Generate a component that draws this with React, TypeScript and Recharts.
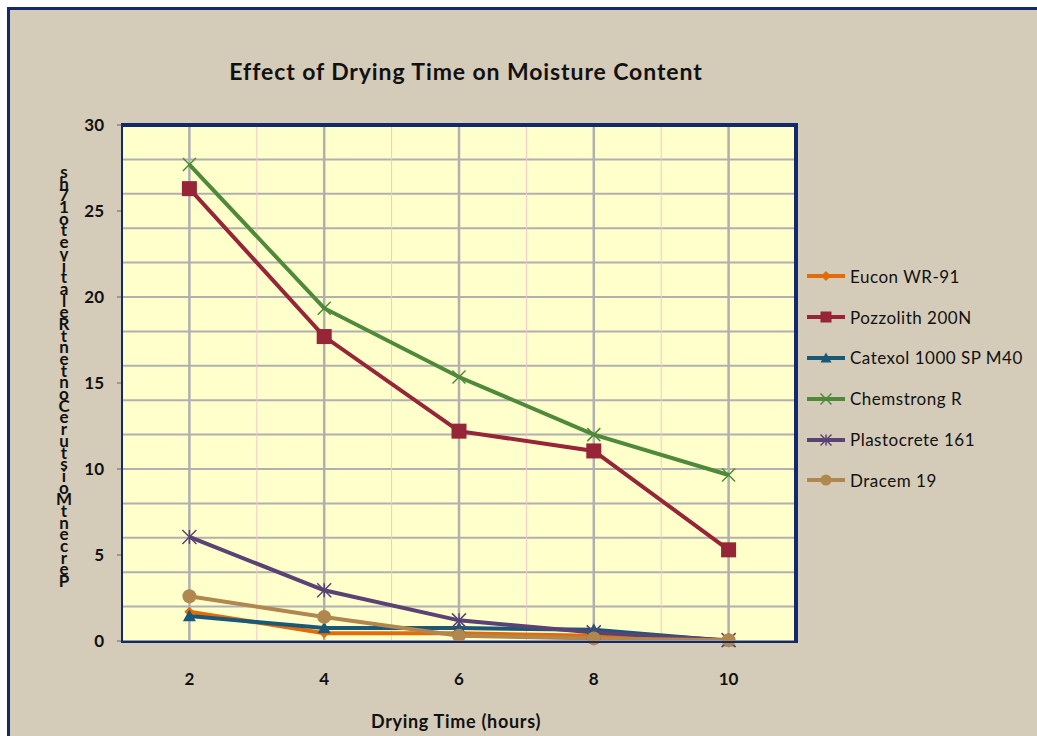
import { LineChart, Line, XAxis, YAxis, CartesianGrid, ReferenceLine } from "recharts";

const hours = [2, 4, 6, 8, 10];
const euconWR91 = [1.7, 0.45, 0.45, 0.3, 0];
const pozzolith200N = [26.3, 17.7, 12.2, 11.05, 5.3];
const catexol1000 = [1.45, 0.75, 0.75, 0.65, 0];
const chemstrongR = [27.7, 19.35, 15.35, 12.0, 9.65];
const plastocrete161 = [6.05, 2.95, 1.2, 0.5, 0.05];
const dracem19 = [2.6, 1.4, 0.3, 0.15, 0.05];

const yTicks = [0, 5, 10, 15, 20, 25, 30];
const yGrid = Array.from({ length: 31 }, (_, i) => i);
const xBoundaries = [3, 5, 7, 9];

// the y title is stacked letter by letter in the source, reading bottom-up
const yLabelChars = ["s", "h", "7", "1", "o", "t", "e", "v", "i", "t", "a", "l", "e", "R", "t", "n", "e", "t", "n", "o", "C", "e", "r", "u", "t", "s", "i", "o", "M", "t", "n", "e", "c", "r", "e", "P"];

const FONT = "Lato, 'Liberation Sans', sans-serif";
const NAVY = "#122a6b";
const GRID = "#b0b0b0";

type Series = { key: string; name: string; values: number[]; color: string; marker: string };

const series: Series[] = [
  { key: "eucon", name: "Eucon WR-91", values: euconWR91, color: "#e36c0a", marker: "diamond" },
  { key: "pozz", name: "Pozzolith 200N", values: pozzolith200N, color: "#952537", marker: "square" },
  { key: "catexol", name: "Catexol 1000 SP M40", values: catexol1000, color: "#1a5877", marker: "triangle" },
  { key: "chem", name: "Chemstrong R", values: chemstrongR, color: "#4e8a3a", marker: "x" },
  { key: "plasto", name: "Plastocrete 161", values: plastocrete161, color: "#5a4275", marker: "star" },
  { key: "dracem", name: "Dracem 19", values: dracem19, color: "#b0884f", marker: "circle" },
];

const data = hours.map((h, i) => {
  const row: Record<string, number> = { hour: h };
  series.forEach(s => { row[s.key] = s.values[i]; });
  return row;
});

function Marker({ kind, cx, cy, color, size }: { kind: string; cx: number; cy: number; color: string; size: number }) {
  const r = size / 2;
  switch (kind) {
    case "diamond":
      return <polygon points={`${cx},${cy - r} ${cx + r},${cy} ${cx},${cy + r} ${cx - r},${cy}`} fill={color} />;
    case "square":
      return <rect x={cx - r} y={cy - r} width={size} height={size} fill={color} />;
    case "triangle":
      return <polygon points={`${cx},${cy - r} ${cx + r},${cy + r * 0.8} ${cx - r},${cy + r * 0.8}`} fill={color} />;
    case "x":
      return (
        <g stroke={color} strokeWidth={1.5}>
          <line x1={cx - r} y1={cy - r} x2={cx + r} y2={cy + r} />
          <line x1={cx - r} y1={cy + r} x2={cx + r} y2={cy - r} />
        </g>
      );
    case "star":
      return (
        <g stroke={color} strokeWidth={1.5}>
          <line x1={cx - r} y1={cy - r} x2={cx + r} y2={cy + r} />
          <line x1={cx - r} y1={cy + r} x2={cx + r} y2={cy - r} />
          <line x1={cx} y1={cy - r} x2={cx} y2={cy + r} />
        </g>
      );
    default:
      return <circle cx={cx} cy={cy} r={r} fill={color} />;
  }
}

const markerSize: Record<string, number> = { diamond: 10, square: 15, triangle: 13, x: 13, star: 14, circle: 14 };

function makeDot(s: Series) {
  return (p: any) => (
    <Marker key={`${s.key}-${p.index}`} kind={s.marker} cx={p.cx} cy={p.cy} color={s.color} size={markerSize[s.marker]} />
  );
}

function Legend() {
  return (
    <div style={{ position: "absolute", left: 806, top: 256, fontFamily: FONT, fontSize: 17, letterSpacing: 0.5, color: "#111" }}>
      {series.map(s => (
        <div key={s.key} style={{ display: "flex", alignItems: "center", height: 40.8 }}>
          <svg width={40} height={16} style={{ marginRight: 4 }}>
            <line x1={1} y1={8} x2={39} y2={8} stroke={s.color} strokeWidth={4} />
            <Marker kind={s.marker} cx={20} cy={8} color={s.color} size={Math.min(markerSize[s.marker], 11)} />
          </svg>
          <span>{s.name}</span>
        </div>
      ))}
    </div>
  );
}

export default function App() {
  return (
    <div style={{ position: "fixed", left: 0, top: 0, width: 1037, height: 736, background: "#fff", overflow: "hidden" }}>
      <div style={{ position: "absolute", left: 7, top: 7, width: 1040, height: 740, background: "#d4cbb8", borderLeft: `3px solid ${NAVY}`, borderTop: `3px solid ${NAVY}` }} />

      <div style={{ position: "absolute", left: 0, top: 57, width: 932, textAlign: "center", fontFamily: FONT, fontWeight: 700, fontSize: 23, letterSpacing: 0.9, color: "#111" }}>
        Effect of Drying Time on Moisture Content
      </div>

      <div style={{ position: "absolute", left: 52, top: 166, width: 24, textAlign: "center", fontFamily: FONT, fontWeight: 700, fontSize: 17, lineHeight: "11.7px", color: "#111" }}>
        {yLabelChars.map((c, i) => <div key={i} style={{ height: 11.7 }}>{c}</div>)}
      </div>

      <div style={{ position: "fixed", left: 0, top: 0 }}>
        <LineChart width={1037} height={736} data={data} margin={{ top: 125, right: 241, bottom: 65, left: 62 }}>
          <CartesianGrid fill="#ffffcc" stroke={GRID} strokeWidth={2} vertical={false} horizontalValues={yGrid} />
          {xBoundaries.map(v => (
            <ReferenceLine key={v} x={v} stroke="#f3c9c3" strokeWidth={1} />
          ))}
          {hours.map(v => (
            <ReferenceLine key={`g${v}`} x={v} stroke={GRID} strokeWidth={2.5} />
          ))}
          <XAxis
            dataKey="hour"
            type="number"
            domain={[1, 11]}
            ticks={hours}
            height={30}
            axisLine={{ stroke: "#999", strokeWidth: 2 }}
            tickLine={false}
            tickMargin={26}
            tick={{ fontFamily: FONT, fontWeight: 700, fontSize: 17, fill: "#111" }}
          />
          <YAxis
            domain={[0, 30]}
            ticks={yTicks}
            width={60}
            axisLine={{ stroke: "#999", strokeWidth: 2 }}
            tickLine={{ stroke: "#999", strokeWidth: 2 }}
            tickSize={5}
            tickMargin={13}
            tick={{ fontFamily: FONT, fontWeight: 700, fontSize: 17, fill: "#111" }}
          />
          {series.map(s => (
            <Line
              key={s.key}
              dataKey={s.key}
              name={s.name}
              stroke={s.color}
              strokeWidth={4}
              dot={makeDot(s)}
              activeDot={false}
              isAnimationActive={false}
            />
          ))}
        </LineChart>
      </div>

      <div style={{ position: "absolute", left: 121, top: 123, width: 677, height: 520, boxSizing: "border-box", borderTop: `4px solid ${NAVY}`, borderRight: `4px solid ${NAVY}`, borderLeft: `2px solid ${NAVY}`, borderBottom: `2px solid ${NAVY}`, pointerEvents: "none" }} />

      <div style={{ position: "absolute", left: 0, top: 710, width: 912, textAlign: "center", fontFamily: FONT, fontWeight: 700, fontSize: 18, letterSpacing: 0.7, color: "#111" }}>
        Drying Time (hours)
      </div>

      <Legend />
    </div>
  );
}
